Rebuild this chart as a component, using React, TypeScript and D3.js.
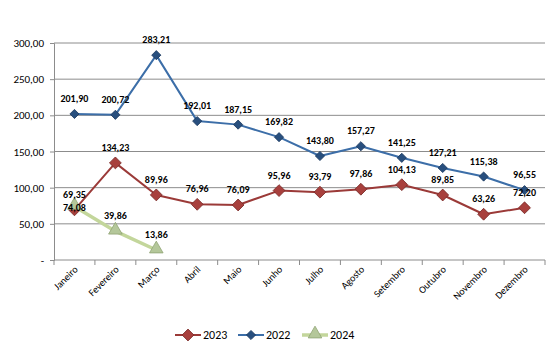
import { useRef, useEffect } from 'react';
import * as d3 from 'd3';

const months = ['Janeiro', 'Fevereiro', 'Março', 'Abril', 'Maio', 'Junho', 'Julho', 'Agosto', 'Setembro', 'Outubro', 'Novembro', 'Dezembro'];
const values2023 = [69.35, 134.23, 89.96, 76.96, 76.09, 95.96, 93.79, 97.86, 104.13, 89.85, 63.26, 72.2];
const values2022 = [201.9, 200.72, 283.21, 192.01, 187.15, 169.82, 143.8, 157.27, 141.25, 127.21, 115.38, 96.55];
const values2024 = [74.08, 39.86, 13.86];
const yTicks = [0, 50, 100, 150, 200, 250, 300];

interface Series {
  name: string;
  values: number[];
  line: string;
  width: number;
  fill: string;
  stroke: string;
  marker: 'diamond' | 'triangle';
  size: number;
}

const series: Series[] = [
  { name: '2023', values: values2023, line: '#9b3a38', width: 2, fill: '#a8403d', stroke: '#7a2a28', marker: 'diamond', size: 70 },
  { name: '2022', values: values2022, line: '#3c6ea8', width: 2, fill: '#284f7e', stroke: '#1c3a60', marker: 'diamond', size: 42 },
  { name: '2024', values: values2024, line: '#c3d69b', width: 3.5, fill: '#b4c79a', stroke: '#8fa374', marker: 'triangle', size: 80 },
];

const fmt = (v: number) => v.toFixed(2).replace('.', ',');

export default function App() {
  const svgRef = useRef<SVGSVGElement>(null);

  useEffect(() => {
    if (!svgRef.current) return;
    const svg = d3.select(svgRef.current);
    svg.selectAll('*').remove();

    const margin = { top: 43, right: 7, bottom: 93, left: 54 };
    const width = 552 - margin.left - margin.right;
    const height = 353 - margin.top - margin.bottom;
    const font = 'Carlito, Calibri, "Open Sans", sans-serif';

    const g = svg.append('g').attr('transform', `translate(${margin.left},${margin.top})`);

    const x = d3.scaleBand().domain(months).range([0, width]);
    const y = d3.scaleLinear().domain([0, 300]).range([height, 0]);

    // gridlines
    g.selectAll('.grid')
      .data(yTicks.slice(1))
      .enter()
      .append('line')
      .attr('x1', 0)
      .attr('x2', width)
      .attr('y1', d => y(d))
      .attr('y2', d => y(d))
      .attr('stroke', '#8c8c8c')
      .attr('stroke-width', 1);

    // y axis
    const yAxis = d3.axisLeft(y)
      .tickValues(yTicks)
      .tickSize(4)
      .tickPadding(6)
      .tickFormat(d => (d === 0 ? '-' : fmt(d as number)));
    const yg = g.append('g').call(yAxis);
    yg.select('.domain').attr('stroke', '#8c8c8c');
    yg.selectAll('line').attr('stroke', '#8c8c8c');
    yg.selectAll('text')
      .attr('font-family', font)
      .attr('font-size', 11)
      .attr('fill', '#000');

    // x axis
    const xg = g.append('g').attr('transform', `translate(0,${height})`);
    xg.append('line').attr('x1', 0).attr('x2', width).attr('stroke', '#8c8c8c');
    const bounds = d3.range(months.length + 1).map(i => i * x.bandwidth());
    xg.selectAll('.tick')
      .data(bounds)
      .enter()
      .append('line')
      .attr('x1', d => d)
      .attr('x2', d => d)
      .attr('y1', 0)
      .attr('y2', 5)
      .attr('stroke', '#8c8c8c');
    xg.selectAll('.lbl')
      .data(months)
      .enter()
      .append('text')
      .attr('transform', d => `translate(${(x(d) as number) + x.bandwidth() / 2 + 4},${10}) rotate(-45)`)
      .attr('text-anchor', 'end')
      .attr('font-family', font)
      .attr('font-size', 10)
      .attr('fill', '#000')
      .text(d => d);

    const cx = (i: number) => (x(months[i]) as number) + x.bandwidth() / 2;

    const symbolFor = (s: Series) =>
      d3.symbol().type(s.marker === 'diamond' ? d3.symbolSquare : d3.symbolTriangle).size(s.size);

    series.forEach(s => {
      const line = d3.line<number>().x((_, i) => cx(i)).y(d => y(d));
      g.append('path')
        .datum(s.values)
        .attr('fill', 'none')
        .attr('stroke', s.line)
        .attr('stroke-width', s.width)
        .attr('stroke-linejoin', 'round')
        .attr('d', line);

      g.selectAll(`.m${s.name}`)
        .data(s.values)
        .enter()
        .append('path')
        .attr('d', symbolFor(s)())
        .attr('transform', (d, i) =>
          `translate(${cx(i)},${y(d) - (s.marker === 'triangle' ? 1 : 0)})${s.marker === 'diamond' ? ' rotate(45)' : ''}`)
        .attr('fill', s.fill)
        .attr('stroke', s.stroke)
        .attr('stroke-width', 0.8);
    });

    // data labels drawn after all lines so they sit on top
    series.forEach(s => {
      g.selectAll(`.l${s.name}`)
        .data(s.values)
        .enter()
        .append('text')
        .attr('x', (_, i) => cx(i))
        // the Janeiro 2024 label sits low, on its marker, in the original
        .attr('y', (d, i) => y(d) + (s.name === '2024' && i === 0 ? 5 : -12))
        .attr('text-anchor', 'middle')
        .attr('font-family', font)
        .attr('font-size', 10)
        .attr('font-weight', 'bold')
        .attr('fill', '#000')
        .text(d => fmt(d));
    });

    // legend
    const legendX = [175, 238, 302];
    const lg = svg.append('g').attr('transform', 'translate(0,335)');
    series.forEach((s, i) => {
      const lx = legendX[i];
      lg.append('line')
        .attr('x1', lx)
        .attr('x2', lx + 26)
        .attr('stroke', s.line)
        .attr('stroke-width', s.width);
      lg.append('path')
        .attr('d', symbolFor(s)())
        .attr('transform', `translate(${lx + 13},${s.marker === 'triangle' ? -1 : 0})${s.marker === 'diamond' ? ' rotate(45)' : ''}`)
        .attr('fill', s.fill)
        .attr('stroke', s.stroke)
        .attr('stroke-width', 0.8);
      lg.append('text')
        .attr('x', lx + 28)
        .attr('y', 4)
        .attr('font-family', font)
        .attr('font-size', 12)
        .attr('fill', '#000')
        .text(s.name);
    });
  }, []);

  return <svg ref={svgRef} width={552} height={353} style={{ position: 'absolute', left: 0, top: 0, background: '#fff' }} />;
}
